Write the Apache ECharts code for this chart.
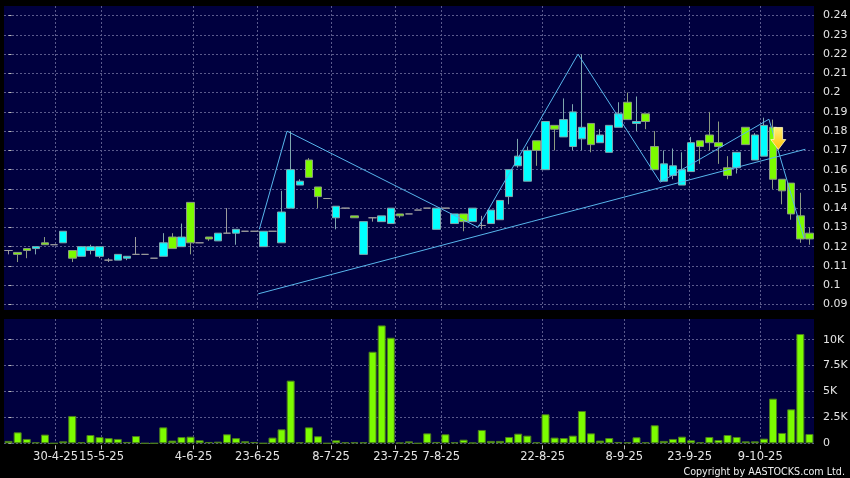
<!DOCTYPE html>
<html><head><meta charset="utf-8">
<script src="https://cdn.jsdelivr.net/npm/echarts@6/dist/echarts.min.js"></script>
<style>html,body{margin:0;padding:0;background:#000;}#c{width:850px;height:478px;}</style>
</head><body><div id="c"></div>
<script>
// ---- data ----
const open  = [.118,.117,.119,.119,.122,.121,.122,.118,.115,.118,.115,.113,.113,.114,.116,.116,.114,.115,.125,.120,
               .143,.122,.125,.123,.127,.127,.128,.128,.120,.128,.122,.140,.152,.165,.151,.145,.135,.140,.136,.116,
               .135,.133,.132,.137,.137,.139,.140,.129,.140,.132,.137,.133,.131,.132,.134,.146,.162,.154,.175,.160,
               .183,.177,.172,.176,.184,.174,.169,.182,.195,.184,.189,.172,.154,.157,.152,.159,.175,.178,.174,.161,
               .161,.182,.165,.167,.182,.155,.153,.136,.127];
const close = [.118,.116,.118,.120,.121,.121,.128,.114,.120,.120,.120,.113,.116,.115,.116,.116,.114,.122,.119,.125,
               .122,.122,.124,.127,.127,.129,.128,.128,.128,.128,.138,.160,.154,.156,.146,.145,.141,.140,.135,.133,
               .135,.136,.140,.136,.137,.139,.140,.140,.140,.137,.133,.140,.131,.139,.144,.160,.167,.170,.170,.185,
               .181,.186,.190,.182,.173,.178,.183,.189,.186,.185,.185,.160,.163,.162,.160,.174,.172,.174,.172,.157,
               .169,.173,.178,.183,.155,.149,.137,.124,.124];
const low   = [.116,.112,.114,.116,.121,.121,.122,.112,.115,.116,.114,.112,.113,.113,.116,.116,.114,.115,.119,.120,
               .116,.122,.123,.123,.127,.121,.128,.128,.120,.128,.122,.140,.152,.156,.140,.145,.129,.140,.135,.116,
               .133,.133,.132,.135,.137,.139,.140,.129,.140,.132,.128,.133,.129,.132,.134,.142,.161,.154,.162,.160,
               .170,.177,.170,.170,.169,.174,.169,.182,.186,.180,.181,.160,.154,.155,.152,.159,.163,.170,.163,.155,
               .158,.173,.165,.167,.150,.142,.134,.122,.121];
const high  = [.118,.117,.119,.120,.125,.121,.128,.118,.120,.121,.120,.114,.116,.115,.125,.116,.114,.127,.127,.132,
               .143,.122,.125,.127,.140,.129,.128,.128,.128,.128,.149,.180,.155,.166,.151,.145,.141,.140,.136,.133,
               .135,.136,.140,.137,.137,.139,.140,.140,.140,.137,.137,.140,.136,.139,.144,.160,.176,.172,.175,.185,
               .183,.197,.194,.220,.184,.181,.183,.195,.200,.198,.189,.180,.170,.171,.169,.177,.175,.190,.185,.167,
               .169,.182,.179,.187,.186,.155,.153,.148,.130];
const volume = [230,1060,420,100,840,0,190,2640,100,800,600,500,420,130,700,0,0,1540,260,600,
                640,290,130,160,870,500,200,130,0,550,1350,6050,100,1540,680,0,290,100,100,100,
                8840,11380,10190,60,190,0,960,130,870,100,350,60,1290,230,230,610,930,740,100,2800,
                550,510,740,3120,960,260,510,130,100,580,100,1740,230,420,640,290,100,610,320,800,
                610,190,190,450,4310,1000,3280,10550,900];
const categories = open.map((_, i) => String(i));
const dateTickPos    = [5.16, 10.22, 20.33, 27.36, 35.43, 42.53, 47.55, 58.68, 67.66, 74.83, 82.6];
const dateTickLabels = ['30-4-25','15-5-25','4-6-25','23-6-25','8-7-25','23-7-25','7-8-25','22-8-25','8-9-25','23-9-25','9-10-25'];
const priceTicks  = [0.09,0.10,0.11,0.12,0.13,0.14,0.15,0.16,0.17,0.18,0.19,0.20,0.21,0.22,0.23,0.24];
const volumeTicks = [0,2500,5000,7500,10000];
const zigzag    = [[27.55,0.129],[30.6,0.180],[51.6,0.130],[62.57,0.220],[71.6,0.1535],[83.55,0.1862],[87.4,0.1245]];
const trendLine = [[27.44,0.0955],[87.55,0.1706]];
const signalPoint = [[84.58,0.1762]];

// ---- chart ----
const ohlc = open.map((o, i) => [o, close[i], low[i], high[i]]);
const grid = '#5a5a8c';
const txt = '#e4e4e4';
const font = 'DejaVu Sans';
const splitDash = {show:true, lineStyle:{color:grid, type:[2,2], width:1}};
const chart = echarts.init(document.getElementById('c'), null, {renderer:'canvas'});
chart.setOption({
  animation:false,
  backgroundColor:'#000',
  grid:[
    {left:4, right:36, top:6, height:304, show:true, backgroundColor:'#00003f', borderWidth:0, outerBoundsMode:'none'},
    {left:4, right:36, top:319, bottom:34.7, show:true, backgroundColor:'#00003f', borderWidth:0, outerBoundsMode:'none'}
  ],
  xAxis:[
    {type:'category', gridIndex:0, data:categories, boundaryGap:true, position:'top', show:false},
    {type:'value', gridIndex:0, min:-0.5, max:88.5, position:'bottom',
     axisLine:{show:false}, axisLabel:{show:false}, axisTick:{show:false, customValues:dateTickPos},
     splitLine:splitDash},
    {type:'category', gridIndex:1, data:categories, boundaryGap:true, position:'top', show:false},
    {type:'value', gridIndex:1, min:-0.5, max:88.5, position:'bottom', offset:2,
     axisLine:{show:false},
     axisTick:{show:true, length:4, customValues:dateTickPos, lineStyle:{color:'#bbb'}},
     axisLabel:{show:true, customValues:dateTickPos, margin:6, color:txt, fontFamily:font, fontSize:11.5,
       formatter:v => { let b=0; dateTickPos.forEach((p,i)=>{ if(Math.abs(p-v)<Math.abs(dateTickPos[b]-v)) b=i; }); return dateTickLabels[b]; }},
     splitLine:splitDash}
  ],
  yAxis:[
    {type:'value', gridIndex:0, position:'right', min:0.0871, max:0.2450, offset:4,
     axisLine:{show:false},
     axisTick:{show:true, length:3, customValues:priceTicks, lineStyle:{color:'#bbb'}},
     axisLabel:{customValues:priceTicks, margin:5, color:txt, fontFamily:font, fontSize:11,
       formatter:v => String(+(+v).toFixed(2))},
     splitLine:splitDash},
    {type:'value', gridIndex:1, position:'right', min:0, max:12000, offset:4,
     axisLine:{show:false},
     axisTick:{show:true, length:3, customValues:volumeTicks, lineStyle:{color:'#bbb'}},
     axisLabel:{customValues:volumeTicks, margin:5, color:txt, fontFamily:font, fontSize:11,
       formatter:v => v === 0 ? '0' : (v/1000) + 'K'},
     splitLine:splitDash}
  ],
  series:[
    {type:'candlestick', xAxisIndex:0, yAxisIndex:0, data:ohlc, barWidth:8,
     itemStyle:{color:'#00ffff', color0:'#7cfc00', borderColor:'#7fa8ae', borderColor0:'#8c9c80',
                borderColorDoji:'#9c9c9c', borderWidth:1}},
    {type:'line', xAxisIndex:1, yAxisIndex:0, data:zigzag, symbol:'none',
     lineStyle:{color:'#58b6ec', width:1}, z:5},
    {type:'line', xAxisIndex:1, yAxisIndex:0, data:trendLine, symbol:'none',
     lineStyle:{color:'#58b6ec', width:1}, z:5},
    {type:'scatter', xAxisIndex:1, yAxisIndex:0, data:signalPoint, z:6,
     symbol:'path://M3,0 L11,0 L11,11 L14,11 L7,20 L0,11 L3,11 Z', symbolSize:[15,22],
     itemStyle:{opacity:1, color:new echarts.graphic.LinearGradient(0,0,0,1,[{offset:0,color:'#fff27a'},{offset:1,color:'#ffc000'}]),
                borderColor:'#fff8c0', borderWidth:0.8}},
    {type:'bar', xAxisIndex:2, yAxisIndex:1, data:volume, barWidth:8,
     itemStyle:{color:'#7cfc00', borderColor:'#4b7d1c', borderWidth:1}}
  ],
  graphic:[
    {type:'text', right:5, bottom:1, style:{text:'Copyright by AASTOCKS.com Ltd.', fill:'#f0f0f0', font:'9.6px "DejaVu Sans"'}}
  ]
});
</script>
</body></html>
